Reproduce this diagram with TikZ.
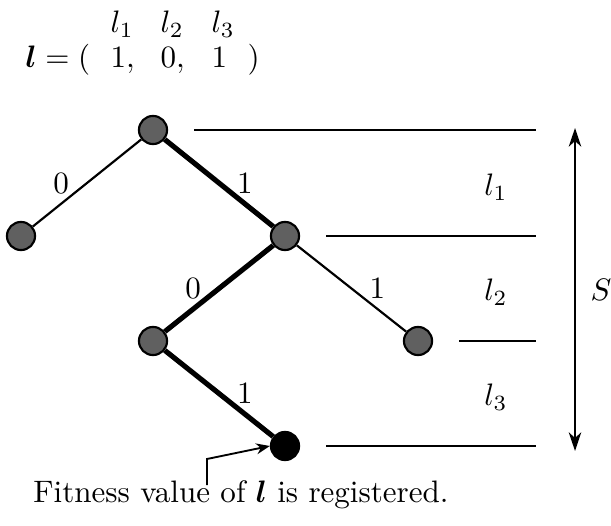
\documentclass[tikz,border=0pt]{standalone}
\usepackage{amsmath}
\usepackage{bm}
\usetikzlibrary{positioning, arrows.meta}
\definecolor{nodeGray}{HTML}{606060}

\begin{document}
\begin{tikzpicture}[
    x=0.322pt, y=-0.322pt,
    vtx/.style={circle, draw, line width=0.7pt, fill=nodeGray, minimum size=9.05pt, inner sep=0pt},
    hitvtx/.style={vtx, fill=black},
    thinedge/.style={line width=0.7pt},
    thickedge/.style={line width=1.65pt},
    lvl/.style={line width=0.52pt},
    elab/.style={midway, inner sep=0pt},
    txt/.style={inner sep=0pt, anchor=base west},
    arr/.style={-{Stealth[length=4.4pt, width=3.5pt]}, line width=0.6pt},
    dbl/.style={{Stealth[length=6pt, width=4pt, inset=1.8pt]}-{Stealth[length=6pt, width=4pt, inset=1.8pt]}, line width=0.52pt},
  ]
    \useasboundingbox (0,0) rectangle (611,526);

    % the vector l
    \node[txt] (lvec) at (25,68) {$\bm{l} = (\,$};
    \foreach \i/\v/\x in {1/{1,}/110,2/{0,}/160,3/1/211} {
      \node[txt] (v\i) at (\x,68) {$\v$};
      \node[txt] (h\i) at (\x,33) {$l_{\i}$};
    }
    \node[txt] (rpar) at (247,68) {$)$};

    % tree
    \node[vtx] (root) at (153,130) {};
    \node[vtx] (n0) at (21,236) {};
    \node[vtx] (n1) at (285,236) {};
    \node[vtx] (n10) at (153,341) {};
    \node[vtx] (n11) at (418,341) {};
    \node[hitvtx] (n101) at (285,446) {};

    \draw[thinedge] (root) -- (n0) node[elab, xshift=-8.35pt] {$0$};
    \draw[thickedge] (root) -- (n1) node[elab, xshift=8.35pt] {$1$};
    \draw[thickedge] (n1) -- (n10) node[elab, xshift=-8.35pt] {$0$};
    \draw[thinedge] (n1) -- (n11) node[elab, xshift=8.35pt] {$1$};
    \draw[thickedge] (n10) -- (n101) node[elab, xshift=8.35pt] {$1$};

    % levels
    \coordinate (rend) at (536,0);
    \foreach \n in {root,n1,n11,n101}
      \draw[lvl] ([xshift=8.35pt]\n.east) -- (\n -| rend);
    \node (lab1) at (496,187) {$l_1$};
    \node (lab2) at (496,292) {$l_2$};
    \node (lab3) at (496,397) {$l_3$};

    \coordinate (stop) at (575,128);
    \coordinate (sbot) at (575,451);
    \draw[dbl] (stop) -- (sbot);
    \node (slab) at (601,290) {$S$};

    % note
    \node[txt, anchor=base] (note) at (241,502) {Fitness value of $\bm{l}$ is registered.};
    \coordinate (ptr) at (207,485);
    \draw[arr] (ptr) -- ++(0,-26) -- (n101.west);
  \end{tikzpicture}
\end{document}
